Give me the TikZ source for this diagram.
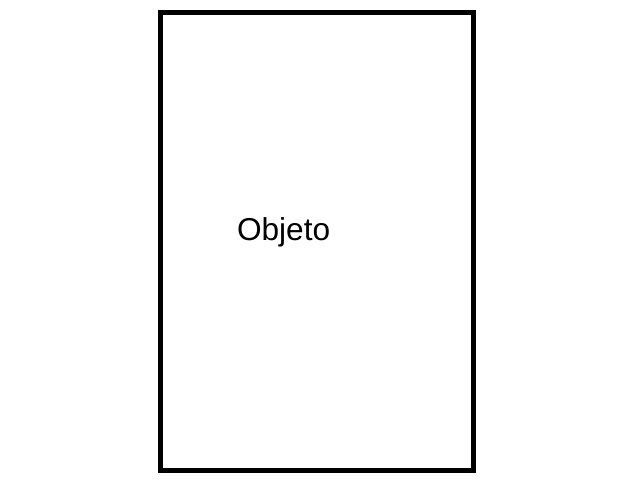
\documentclass[tikz,border=0pt]{standalone}
\usepackage{fontspec}
\setmainfont{Liberation Sans}
\usetikzlibrary{positioning}

\begin{document}
\begin{tikzpicture}
                  % Canvas
                  \useasboundingbox (0,0) rectangle (16,12);
                  % Frame
                  \draw[line width=0.125cm, line join=miter] (4.0125,0.2375) rectangle (11.8375,11.6875);
                  % Label
                  \node[anchor=base, inner sep=0pt, font=\fontsize{22.5pt}{27pt}\selectfont] (objeto) at (7.09,6.0) {Objeto};
              \end{tikzpicture}
\end{document}
